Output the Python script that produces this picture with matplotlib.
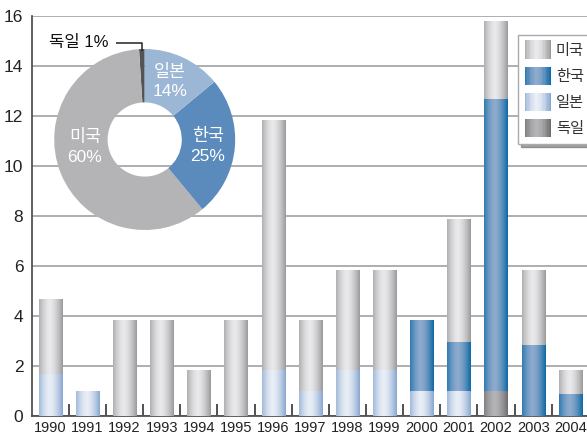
import numpy as np
import matplotlib
matplotlib.use("Agg")
import matplotlib.pyplot as plt
from matplotlib.legend_handler import HandlerBase
from matplotlib.patches import Rectangle

# data
years = ["1990", "1991", "1992", "1993", "1994", "1995", "1996", "1997",
         "1998", "1999", "2000", "2001", "2002", "2003", "2004"]
japan = [1.65, 0.97, 0, 0, 0, 0, 1.83, 0.97, 1.83, 1.83, 0.97, 0.97, 0, 0, 0]
germany = [0, 0, 0, 0, 0, 0, 0, 0, 0, 0, 0, 0, 0.97, 0, 0]
korea = [0, 0, 0, 0, 0, 0, 0, 0, 0, 0, 2.86, 1.96, 11.71, 2.83, 0.87]
usa = [3.0, 0, 3.83, 3.83, 1.83, 3.83, 10.02, 2.86, 4.02, 4.02, 0, 4.94, 3.11, 3.0, 0.96]

pie_labels = ["독일", "미국", "한국", "일본"]
pie_share = [1, 60, 25, 14]

numfont = ["Liberation Sans", "DejaVu Sans"]
kfont = ["Noto Sans CJK KR", "DejaVu Sans"]
mixfont = ["Liberation Sans", "Noto Sans CJK KR", "DejaVu Sans"]

# (edge colour, highlight colour) for the cylinder-like gradient
grad = {
    "미국": ("#9a9a9c", "#e9e9eb"),
    "한국": ("#0d68a5", "#8eaacd"),
    "일본": ("#86a6cf", "#e9eef6"),
    "독일": ("#6c6c6e", "#b4b4b6"),
}


def profile(n=64):
    t = np.linspace(0, 1, n)
    f = 1 - np.abs((t - 0.45) / 0.55) ** 1.6
    return np.clip(f, 0, 1)


def ramp(key, n=64):
    c0 = np.array(matplotlib.colors.to_rgb(grad[key][0]))
    c1 = np.array(matplotlib.colors.to_rgb(grad[key][1]))
    f = profile(n)[:, None]
    return c0 + (c1 - c0) * f


def gradient_bars(ax, x, h, bottom, key):
    bars = ax.bar(x, h, 0.62, bottom=bottom, facecolor="none",
                  edgecolor="none", zorder=3)
    img = ramp(key)[None, :, :]
    for b in bars:
        if b.get_height() <= 0:
            continue
        x0, y0 = b.get_x(), b.get_y()
        im = ax.imshow(img, extent=(x0, x0 + b.get_width(), y0, y0 + b.get_height()),
                       aspect="auto", interpolation="bilinear", zorder=3)
        im.set_clip_path(b)
    return bars


class GradHandler(HandlerBase):
    def __init__(self, key):
        super().__init__()
        self.key = key

    def create_artists(self, legend, orig, xd, yd, width, height, fontsize, trans):
        cols = ramp(self.key, 20)
        w = width / len(cols)
        arts = []
        for i, c in enumerate(cols):
            r = Rectangle((-xd + i * w, -yd - 2), w * 1.05, height + 4,
                          facecolor=c, edgecolor="none", transform=trans)
            arts.append(r)
        return arts


fig = plt.figure(figsize=(5.87, 4.36), dpi=100)
ax = fig.add_axes([0.054, 0.0466, 0.946, 0.917])

x = np.arange(len(years))
jp = np.array(japan)
de = np.array(germany)
kr = np.array(korea)
us = np.array(usa)

gradient_bars(ax, x, jp, 0, "일본")
gradient_bars(ax, x, de, jp, "독일")
gradient_bars(ax, x, kr, jp + de, "한국")
gradient_bars(ax, x, us, jp + de + kr, "미국")

ax.set_xlim(-0.5, 14.45)
ax.set_ylim(0, 16)
ax.set_yticks(range(0, 17, 2))
ax.set_xticks(x)
ax.set_xticklabels(years)
ax.set_xticks(x[:-1] + 0.5, minor=True)
ax.tick_params(axis="x", which="major", length=0, pad=4)
ax.tick_params(axis="x", which="minor", direction="in", length=9, width=1.2,
               color="#333333")
ax.tick_params(axis="y", length=0, pad=6)
for lab in ax.get_xticklabels():
    lab.set_family(numfont)
    lab.set_fontsize(10.5)
    lab.set_color("#222222")
for lab in ax.get_yticklabels():
    lab.set_family(numfont)
    lab.set_fontsize(12.5)
    lab.set_color("#222222")
ax.grid(axis="y", color="#a8a8a8", linewidth=1.3, zorder=0)
ax.set_axisbelow(True)
for s in ["top", "right"]:
    ax.spines[s].set_visible(False)
ax.spines["left"].set_color("#444444")
ax.spines["bottom"].set_color("#444444")
ax.spines["left"].set_linewidth(1.2)
ax.spines["bottom"].set_linewidth(1.2)

# legend
keys = ["미국", "한국", "일본", "독일"]
proxies = [Rectangle((0, 0), 1, 1) for _ in keys]
leg = fig.legend(proxies, keys, loc="upper left",
                 bbox_to_anchor=(0.882, 0.92), bbox_transform=fig.transFigure,
                 handler_map={p: GradHandler(k) for p, k in zip(proxies, keys)},
                 prop={"family": kfont, "size": 11}, handlelength=1.75,
                 handleheight=0.9, labelspacing=0.6, handletextpad=0.3,
                 borderpad=0.45, borderaxespad=0, fancybox=False, shadow=True,
                 framealpha=1, edgecolor="#aaaaaa")
leg.get_frame().set_linewidth(1.0)
for t in leg.get_texts():
    t.set_color("#333333")

# donut chart
pax = fig.add_axes([0.0923, 0.4725, 0.3084, 0.4151])
pie_cols = ["#545456", "#b4b4b6", "#5a8bbc", "#9cb6d6"]
wedges, _ = pax.pie(pie_share, colors=pie_cols, startangle=90, counterclock=True,
                    radius=1.0, wedgeprops=dict(width=0.59, edgecolor="none"))
pax.set_xlim(-1, 1)
pax.set_ylim(-1, 1)
pax.set_aspect("equal")

inner = {"일본": (0.28, 0.64), "미국": (-0.66, -0.08), "한국": (0.70, -0.07)}
for name, share in zip(pie_labels[1:], pie_share[1:]):
    px, py = inner[name]
    pax.text(px, py, f"{name}\n{share}%", color="white", ha="center", va="center",
             family=mixfont, fontsize=12.5, linespacing=1.4)

# leader line for the 1% slice
ang = np.deg2rad((wedges[0].theta1 + wedges[0].theta2) / 2)
tipx, tipy = np.cos(ang) * 1.0, np.sin(ang) * 1.0
pax.plot([tipx, tipx, -0.32], [tipy - 0.02, 1.07, 1.07], color="#222222",
         lw=1.1, clip_on=False, solid_capstyle="butt")
pax.text(-0.40, 1.07, f"{pie_labels[0]} {pie_share[0]}%", ha="right",
         va="center", family=mixfont, fontsize=12, color="#111111")

fig.savefig("out.png", dpi=100)
